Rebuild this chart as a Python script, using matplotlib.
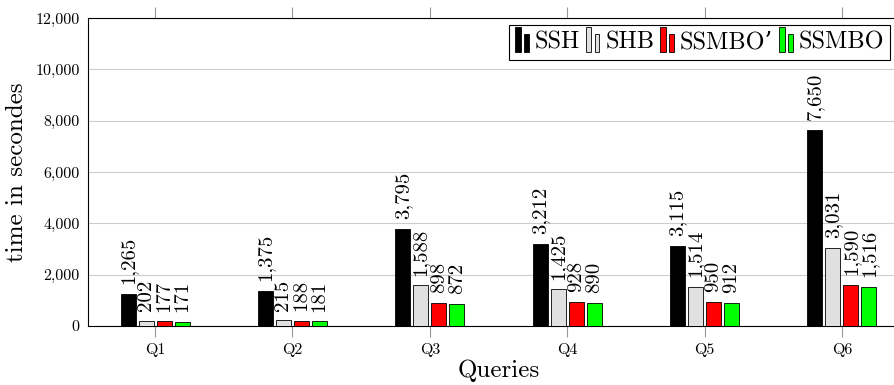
import matplotlib
matplotlib.use("Agg")
import matplotlib.pyplot as plt
from matplotlib.patches import Rectangle
from matplotlib.legend_handler import HandlerBase
from matplotlib.ticker import FuncFormatter
import numpy as np

plt.rcParams['font.family'] = ['cmr10', 'DejaVu Serif']
plt.rcParams['axes.formatter.use_mathtext'] = True

queries = ['Q1', 'Q2', 'Q3', 'Q4', 'Q5', 'Q6']
ssh = [1265, 1375, 3795, 3212, 3115, 7650]
shb = [202, 215, 1588, 1425, 1514, 3031]
ssmbo_prime = [177, 188, 898, 928, 950, 1590]
ssmbo = [171, 181, 872, 890, 912, 1516]

series = [
    ("SSH", ssh, "black"),
    ("SHB", shb, "#e0e0e0"),
    ("SSMBO\u2019", ssmbo_prime, "#ff0000"),
    ("SSMBO", ssmbo, "#00ff00"),
]


class TwoBarHandler(HandlerBase):
    # small ybar-style legend icon: a tall bar followed by a shorter one
    def create_artists(self, legend, orig_handle, xdescent, ydescent,
                       width, height, fontsize, trans):
        fc = orig_handle.get_facecolor()
        w = width * 0.36
        r1 = Rectangle((-xdescent, -ydescent - 0.1 * height), w, height * 1.3,
                       facecolor=fc, edgecolor='black', lw=0.6, transform=trans)
        r2 = Rectangle((-xdescent + width * 0.56, -ydescent - 0.1 * height), w * 0.85,
                       height * 0.95, facecolor=fc, edgecolor='black', lw=0.6,
                       transform=trans)
        return [r1, r2]


fig = plt.figure(figsize=(8.95, 3.85), dpi=100)
ax = fig.add_axes([88 / 895, 1 - 326 / 385, 821 / 895, 308 / 385])

x = np.arange(1, len(queries) + 1)
step = 0.131
width = 0.109
offsets = [-1.5 * step, -0.5 * step, 0.5 * step, 1.5 * step]

handles = []
for (name, vals, color), off in zip(series, offsets):
    bars = ax.bar(x + off, vals, width, color=color, edgecolor='black',
                  linewidth=0.6, label=name, zorder=3)
    handles.append(bars[0])
    for xi, v in zip(x + off, vals):
        ax.annotate(f"{v:,}", (xi, v), xytext=(0, 7), textcoords='offset points',
                    rotation=90, ha='center', va='bottom', fontsize=15,
                    zorder=4)

ax.set_xlim(0.512, 6.488)
ax.set_ylim(0, 12000)
ax.set_yticks(range(0, 12001, 2000))
ax.yaxis.set_major_formatter(FuncFormatter(lambda v, p: f"{int(v):,}"))
ax.set_xticks(x)
ax.set_xticklabels(queries)
ax.tick_params(axis='x', which='both', top=True, direction='out', length=8,
               color='#999999', labelsize=11.5, pad=4)
ax.tick_params(axis='y', direction='in', length=0, labelsize=11.5, pad=6)
ax.grid(axis='y', color='#cccccc', linewidth=0.8, zorder=0)
ax.set_axisbelow(True)
for s in ax.spines.values():
    s.set_linewidth(0.8)

ax.set_xlabel('Queries', fontsize=18, labelpad=2)
ax.set_ylabel('time in secondes', fontsize=18, labelpad=5)

leg = ax.legend(handles, [s[0] for s in series], ncol=4, loc='upper right',
                bbox_to_anchor=((890 - 88) / 821, 1 - 7 / 308),
                handler_map={h: TwoBarHandler() for h in handles},
                fontsize=17.5, frameon=True, fancybox=False, edgecolor='black',
                framealpha=1, handlelength=0.65, handleheight=0.8,
                handletextpad=0.15, columnspacing=0.25, borderpad=0.25,
                borderaxespad=0)
leg.get_frame().set_linewidth(0.8)

fig.savefig('out.png', dpi=100)
